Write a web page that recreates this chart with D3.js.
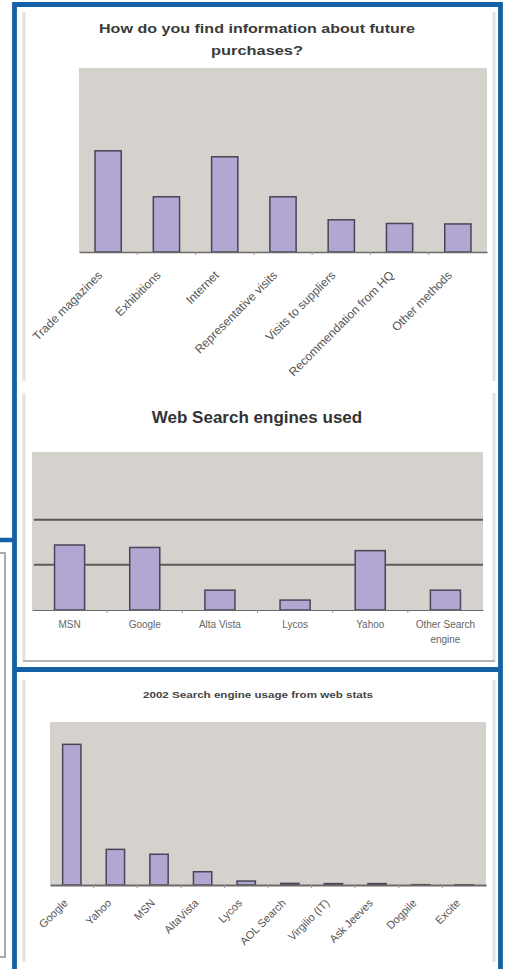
<!DOCTYPE html>
<html><head><meta charset="utf-8">
<script src="https://cdn.jsdelivr.net/npm/d3@7/dist/d3.min.js"></script>
<style>
html,body{margin:0;padding:0;background:#fff;}
svg{display:block;font-family:Arial,"Liberation Sans",sans-serif;}
</style></head>
<body><svg id="c" width="509" height="969"></svg>
<script>
// ---- data ----
const title1Lines = ["How do you find information  about future", "purchases?"];
const methods = ["Trade magazines","Exhibitions","Internet","Representative visits","Visits to suppliers","Recommendation from HQ","Other methods"];
const methodValues = [22, 12, 20.7, 12, 7, 6.2, 6.1];
const methodMax = 40;

const title2 = "Web Search engines used";
const engines = ["MSN","Google","Alta Vista","Lycos","Yahoo","Other Search engine"];
const engineValues = [28.8, 27.7, 8.8, 4.4, 26.3, 8.8];
const engineMax = 70;
const engineGrid = [20, 40];

const title3 = "2002 Search engine usage from web stats";
const engines2002 = ["Google","Yahoo","MSN","AltaVista","Lycos","AOL Search","Virgilio (IT)","Ask Jeeves","Dogpile","Excite"];
const usage2002 = [60.4, 15.3, 13.2, 5.7, 1.7, 0.7, 0.6, 0.6, 0.15, 0.1];
const usageMax = 70;

// ---- styles ----
const BLUE = "#1561a7", PLOT = "#d5d2cd", BAR = "#b1a7d2", BARSTROKE = "#4a4458";
const svg = d3.select("#c");

// page frames
svg.append("path").attr("d","M0,540 H14").attr("stroke",BLUE).attr("stroke-width",4.5).attr("fill","none");
svg.append("path").attr("d","M0,553 H5 V957 H0").attr("stroke","#aaa").attr("stroke-width",2).attr("fill","none");

function panel(y0, y1, bottomLine){
  svg.append("rect").attr("x",23).attr("y",y0).attr("width",471).attr("height",y1-y0).attr("fill","#fff");
  svg.append("line").attr("x1",24).attr("x2",24).attr("y1",y0).attr("y2",y1).attr("stroke","#e2e2e2").attr("stroke-width",3);
  svg.append("line").attr("x1",494).attr("x2",494).attr("y1",y0).attr("y2",y1).attr("stroke","#e2e2e2").attr("stroke-width",3);
  if(bottomLine) svg.append("line").attr("x1",23).attr("x2",495).attr("y1",y1).attr("y2",y1).attr("stroke","#b5b5b5").attr("stroke-width",2);
}
panel(12, 381, false);
panel(393, 661, true);
panel(680, 962, false);

// blue boxes
svg.append("path").attr("d","M14.5,980 V4.5 H500.5 V980 M14.5,669.5 H500.5")
  .attr("stroke",BLUE).attr("stroke-width",4.8).attr("fill","none");

function barChart(o){
  const x = d3.scaleBand().domain(o.cats).range([o.x0,o.x1]).paddingInner(o.pad).paddingOuter(o.pad/2);
  const y = d3.scaleLinear().domain([0,o.max]).range([o.y1,o.y0]);
  const g = svg.append("g");
  g.append("rect").attr("x",o.x0).attr("y",o.y0).attr("width",o.x1-o.x0).attr("height",o.y1-o.y0).attr("fill",PLOT);
  if(o.grid){
    g.selectAll(".gl").data(o.grid).join("line")
      .attr("x1",o.x0+2).attr("x2",o.x1).attr("y1",d=>y(d)).attr("y2",d=>y(d))
      .attr("stroke","#5c5a58").attr("stroke-width",2);
  }
  g.selectAll(".bar").data(o.vals).join("rect")
    .attr("x",(d,i)=>x(o.cats[i])).attr("width",x.bandwidth())
    .attr("y",d=>y(d)).attr("height",d=>Math.max(0.6,o.y1-y(d)))
    .attr("fill",BAR).attr("stroke",BARSTROKE).attr("stroke-width",1.5);
  const ax = g.append("g").attr("transform",`translate(0,${o.y1})`)
    .call(d3.axisBottom(x).tickSize(0).tickFormat(""));
  ax.select(".domain").attr("stroke","#6b6a68").attr("stroke-width",o.axisW);
  const step = x.step();
  g.selectAll(".tk").data(o.cats.slice(1)).join("line")
    .attr("x1",(d)=>x(d)-(step-x.bandwidth())/2).attr("x2",(d)=>x(d)-(step-x.bandwidth())/2)
    .attr("y1",o.y1).attr("y2",o.y1+3).attr("stroke","#999").attr("stroke-width",1);
  return {x,y,g};
}

// Chart 1
svg.append("text").attr("x",257).attr("y",33).attr("text-anchor","middle").attr("font-weight","bold")
  .attr("font-size",12.5).attr("fill","#3a3a3a").attr("textLength",316).attr("lengthAdjust","spacingAndGlyphs").text(title1Lines[0]);
svg.append("text").attr("x",257).attr("y",55).attr("text-anchor","middle").attr("font-weight","bold")
  .attr("font-size",12.5).attr("fill","#3a3a3a").attr("textLength",92).attr("lengthAdjust","spacingAndGlyphs").text(title1Lines[1]);
const c1 = barChart({cats:methods, vals:methodValues, max:methodMax, x0:79, x1:487, y0:68, y1:252, pad:0.55, axisW:1.5});
svg.selectAll(".l1").data(methods).join("text")
  .attr("transform",d=>`translate(${c1.x(d)+c1.x.bandwidth()/2-8},${273}) rotate(-45)`)
  .attr("text-anchor","end").attr("dy","0.35em").attr("font-size",12).attr("fill","#555").text(d=>d);

// Chart 2
svg.append("text").attr("x",257).attr("y",423).attr("text-anchor","middle").attr("font-weight","bold")
  .attr("font-size",17).attr("fill","#333").text(title2);
const c2 = barChart({cats:engines, vals:engineValues, max:engineMax, grid:engineGrid, x0:32, x1:483, y0:452, y1:610, pad:0.6, axisW:1});
svg.selectAll(".l2").data(engines).join("text")
  .attr("x",d=>c2.x(d)+c2.x.bandwidth()/2).attr("y",628).attr("text-anchor","middle")
  .attr("font-size",10).attr("fill","#666")
  .each(function(d){
    const t = d3.select(this);
    const words = d.split(" ");
    if(words.length>2){
      t.append("tspan").attr("x",c2.x(d)+c2.x.bandwidth()/2).text(words.slice(0,2).join(" "));
      t.append("tspan").attr("x",c2.x(d)+c2.x.bandwidth()/2).attr("dy",15).text(words.slice(2).join(" "));
    } else t.text(d);
  });

// Chart 3
svg.append("text").attr("x",258).attr("y",698).attr("text-anchor","middle").attr("font-weight","bold")
  .attr("font-size",9).attr("fill","#444").attr("textLength",230).attr("lengthAdjust","spacingAndGlyphs").text(title3);
const c3 = barChart({cats:engines2002, vals:usage2002, max:usageMax, x0:50, x1:486, y0:722, y1:885, pad:0.58, axisW:2});
svg.selectAll(".l3").data(engines2002).join("text")
  .attr("transform",d=>`translate(${c3.x(d)+c3.x.bandwidth()/2-6},${901}) rotate(-45)`)
  .attr("text-anchor","end").attr("dy","0.35em").attr("font-size",11).attr("fill","#555").text(d=>d);
</script></body></html>
